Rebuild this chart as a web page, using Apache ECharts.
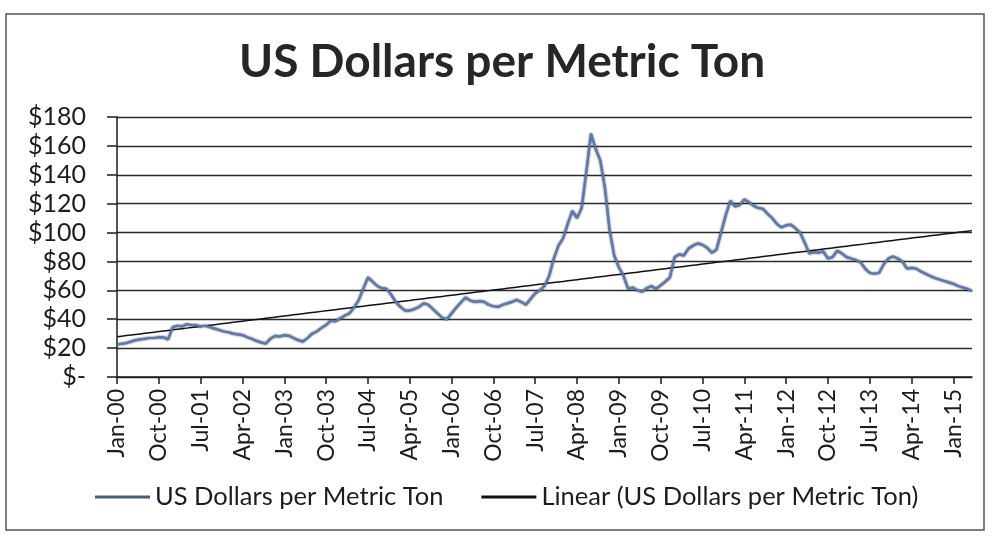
<!DOCTYPE html>
<html>
<head>
<meta charset="utf-8">
<title>US Dollars per Metric Ton</title>
<script src="https://cdn.jsdelivr.net/npm/echarts@6/dist/echarts.min.js"></script>
<style>
  html, body { margin: 0; padding: 0; background: #fff; }
  #chart { width: 992px; height: 541px; }
</style>
</head>
<body>
<div id="chart"></div>
<script>
// monthly series, Jan-00 .. May-15
const monthNames = ["Jan", "Feb", "Mar", "Apr", "May", "Jun", "Jul", "Aug", "Sep", "Oct", "Nov", "Dec"];
const startYear = 0; // 2000
const priceValues = [
  22.5, 23, 23.5, 24.5, 25.5, 26, 26.5, 27, 27, 27.5, 27.5, 26,
  34.5, 35.5, 35, 36.5, 36, 36, 35, 35.5, 34.5, 33.5, 32.5, 31.5,
  31, 30, 29.5, 29, 27.5, 26.5, 25, 24, 23, 26.5, 28.5, 28,
  29, 28.5, 27, 25.5, 24.5, 27, 30, 31.5, 34, 36, 39, 38.5,
  40.5, 42.5, 44, 48, 53, 61, 69, 66, 63, 61.5, 61, 57,
  52, 48.5, 46, 46, 47, 48.5, 51, 50, 47, 44, 41, 40,
  44, 48, 51.5, 55, 53, 52, 52.5, 52, 50, 49, 48.5, 50,
  51, 52, 53.5, 52, 50, 54, 58, 60, 63, 70, 82, 91,
  96, 106, 115, 110, 117, 142, 168.5, 158, 150, 131, 102, 84,
  76, 70, 61, 62, 60, 59, 61.5, 63, 61, 63.5, 66, 69,
  83, 85, 84, 89, 91, 92.5, 91.5, 89.5, 86, 88, 100, 112,
  122, 118, 119, 123, 121, 118.5, 117, 116.5, 113, 110, 106, 103.5,
  105, 105.5, 103, 100, 93, 85.5, 86.5, 86, 87, 82, 83, 87.5,
  85.5, 83, 82, 81, 79.5, 75, 72, 71.5, 72, 78, 82, 83.5,
  82, 80, 75, 75.5, 75, 73, 71.5, 70, 68.5, 67.5, 66.5, 65.5,
  64.5, 63, 62, 61, 59.5
];
const yMin = 0;
const yMax = 180;
const yStep = 20;

let categories = [];
for (let i = 0; i < priceValues.length; i++) {
  let yy = startYear + Math.floor(i / 12);
  categories.push(monthNames[i % 12] + "-" + String(yy).padStart(2, "0"));
}

// linear trendline (least squares, like Excel)
function linearTrend(values) {
  let n = values.length, sx = 0, sy = 0, sxx = 0, sxy = 0;
  values.forEach((v, i) => { sx += i; sy += v; sxx += i * i; sxy += i * v; });
  let slope = (n * sxy - sx * sy) / (n * sxx - sx * sx);
  let icpt = (sy - slope * sx) / n;
  return values.map((v, i) => +(icpt + slope * i).toFixed(2));
}
const trendValues = linearTrend(priceValues);

const ink = "#1c1c1c";
const font = "Lato";

let myChart = echarts.init(document.getElementById("chart"));
myChart.setOption({
  backgroundColor: "#fff",
  animation: false,
  title: {
    text: "US Dollars per Metric Ton",
    left: 234,
    top: 34,
    textStyle: { fontFamily: font, fontSize: 46, fontWeight: "bold", color: "#262626" }
  },
  graphic: [
    {
      type: "rect",
      shape: { x: 6, y: 14, width: 978, height: 516 },
      style: { fill: "none", stroke: "#555", lineWidth: 1.5 },
      silent: true
    }
  ],
  legend: {
    left: 95,
    top: 484,
    padding: 0,
    icon: "rect",
    itemWidth: 55,
    itemHeight: 3,
    itemGap: 38,
    textStyle: { fontFamily: font, fontSize: 25.5, color: ink },
    data: [
      { name: "US Dollars per Metric Ton", itemStyle: { color: "#4d5c78" } },
      { name: "Linear (US Dollars per Metric Ton)", itemStyle: { color: "#111" } }
    ]
  },
  grid: {
    left: 117,
    right: 20,
    top: 117,
    bottom: 164,
    containLabel: false
  },
  xAxis: {
    type: "category",
    data: categories,
    boundaryGap: false,
    axisLine: { lineStyle: { color: ink, width: 1.5 } },
    axisTick: { interval: 8, length: 7, lineStyle: { color: ink, width: 1.5 } },
    axisLabel: {
      interval: 8,
      rotate: 90,
      margin: 12,
      fontFamily: font,
      fontSize: 23,
      color: ink
    },
    splitLine: { show: false }
  },
  yAxis: {
    type: "value",
    min: yMin,
    max: yMax,
    interval: yStep,
    axisLine: { show: true, lineStyle: { color: ink, width: 1.5 } },
    axisTick: { show: true, length: 10, lineStyle: { color: ink, width: 1.5 } },
    axisLabel: {
      margin: 31,
      fontFamily: font,
      fontSize: 25,
      color: ink,
      formatter: function (v) { return v === 0 ? "$-" : "$" + v; }
    },
    splitLine: { show: true, lineStyle: { color: "#2a2a2a", width: 1.4 } }
  },
  series: [
    {
      name: "US Dollars per Metric Ton",
      type: "line",
      data: priceValues,
      symbol: "none",
      z: 3,
      lineStyle: {
        color: "#5b7bb0",
        width: 2.2,
        shadowColor: "rgba(30,30,40,0.95)",
        shadowBlur: 2
      },
      itemStyle: { color: "#4d5c78" }
    },
    {
      name: "Linear (US Dollars per Metric Ton)",
      type: "line",
      data: trendValues,
      symbol: "none",
      z: 2,
      lineStyle: { color: "#111", width: 1.5 },
      itemStyle: { color: "#111" }
    }
  ]
});
</script>
</body>
</html>
